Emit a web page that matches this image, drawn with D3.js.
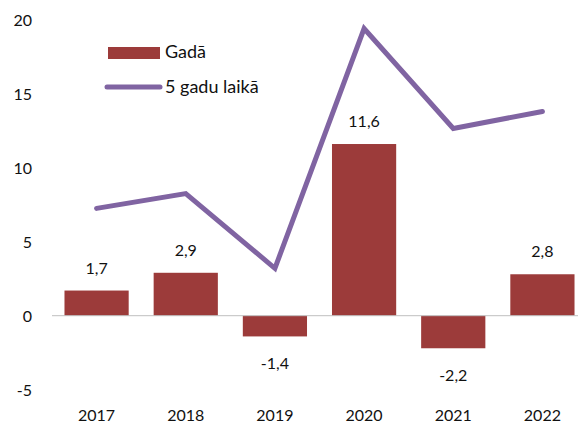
<!DOCTYPE html>
<html>
<head>
    <script src="https://d3js.org/d3.v7.min.js"></script>
    <style>
        body { margin: 0; background: #fff; }
        text { font-family: Lato, "Open Sans", sans-serif; fill: #111; }
    </style>
</head>
<body>
    <svg width="578" height="428"></svg>
    <script>
        // data
        var years = ["2017", "2018", "2019", "2020", "2021", "2022"];
        var gada = [1.7, 2.9, -1.4, 11.6, -2.2, 2.8];
        var piecGados = [7.25, 8.25, 3.2, 19.4, 12.65, 13.8];
        var yTicks = [-5, 0, 5, 10, 15, 20];
        var seriesNames = ["Gadā", "5 gadu laikā"];

        var svg = d3.select("svg");

        var x = d3.scaleBand()
            .domain(years)
            .range([52, 587])
            .paddingInner(0.28)
            .paddingOuter(0.14);

        var y = d3.scaleLinear()
            .domain([-5, 20])
            .range([389.7, 19.7]);

        var fmt = function(v) { return String(v).replace(".", ","); };

        // y tick labels
        svg.append("g").selectAll("text")
            .data(yTicks)
            .enter().append("text")
            .attr("x", 32)
            .attr("y", function(d) { return y(d) + 2; })
            .attr("text-anchor", "end")
            .attr("dominant-baseline", "middle")
            .style("font-size", "16px")
            .text(function(d) { return d; });

        // bars
        svg.append("g").selectAll("rect")
            .data(gada)
            .enter().append("rect")
            .attr("x", function(d, i) { return x(years[i]); })
            .attr("width", x.bandwidth())
            .attr("y", function(d) { return d > 0 ? y(d) : y(0); })
            .attr("height", function(d) { return Math.abs(y(d) - y(0)); })
            .attr("fill", "#9c3b3a");

        // zero line
        svg.append("line")
            .attr("x1", 52).attr("x2", 578)
            .attr("y1", y(0)).attr("y2", y(0))
            .attr("stroke", "#bfbfbf")
            .attr("stroke-width", 1);

        // bar labels
        svg.append("g").selectAll("text")
            .data(gada)
            .enter().append("text")
            .attr("x", function(d, i) { return x(years[i]) + x.bandwidth() / 2; })
            .attr("y", function(d) { return d > 0 ? y(d) - 21 : y(d) + 29; })
            .attr("text-anchor", "middle")
            .attr("dominant-baseline", "middle")
            .style("font-size", "16px")
            .text(fmt);

        // line
        var line = d3.line()
            .x(function(d, i) { return x(years[i]) + x.bandwidth() / 2; })
            .y(function(d) { return y(d); });

        svg.append("path")
            .datum(piecGados)
            .attr("d", line)
            .attr("fill", "none")
            .attr("stroke", "#8064a2")
            .attr("stroke-width", 5)
            .attr("stroke-linecap", "round")
            .attr("stroke-linejoin", "miter");

        // x labels
        svg.append("g").selectAll("text")
            .data(years)
            .enter().append("text")
            .attr("x", function(d) { return x(d) + x.bandwidth() / 2; })
            .attr("y", 417)
            .attr("text-anchor", "middle")
            .attr("dominant-baseline", "middle")
            .style("font-size", "16px")
            .text(function(d) { return d; });

        // legend
        var leg = svg.append("g");
        leg.append("rect")
            .attr("x", 108).attr("y", 47)
            .attr("width", 52).attr("height", 12)
            .attr("fill", "#9c3b3a");
        leg.append("line")
            .attr("x1", 107).attr("x2", 160)
            .attr("y1", 87).attr("y2", 87)
            .attr("stroke", "#8064a2")
            .attr("stroke-width", 5)
            .attr("stroke-linecap", "round");
        leg.selectAll("text.lg")
            .data(seriesNames)
            .enter().append("text")
            .attr("class", "lg")
            .attr("x", 165)
            .attr("y", function(d, i) { return 53 + i * 35; })
            .attr("dominant-baseline", "middle")
            .style("font-size", "18px")
            .text(function(d) { return d; });
    </script>
</body>
</html>
